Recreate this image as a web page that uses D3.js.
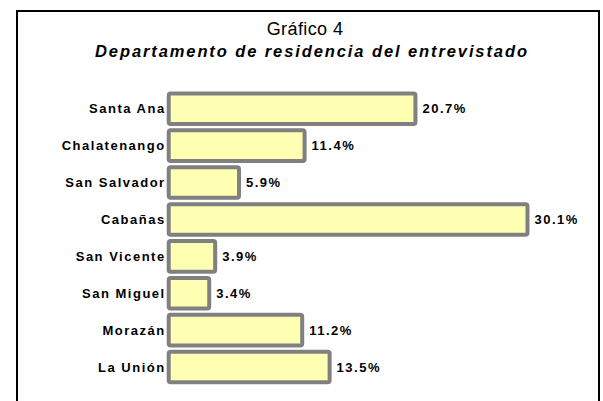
<!DOCTYPE html>
<html lang="es">
<head>
<meta charset="utf-8">
<title>Gráfico 4</title>
<script src="https://cdn.jsdelivr.net/npm/d3@7"></script>
<style>
  body { margin: 0; background: #fff; }
  text { font-family: "Liberation Sans", Arial, sans-serif; fill: #000; }
</style>
</head>
<body>
<svg width="603" height="401"></svg>
<script>
// datos del grafico
var departamentos = ["Santa Ana", "Chalatenango", "San Salvador", "Cabañas", "San Vicente", "San Miguel", "Morazán", "La Unión"];
var porcentajes = [20.7, 11.4, 5.9, 30.1, 3.9, 3.4, 11.2, 13.5];

var data = departamentos.map(function(d, i) { return { dep: d, pct: porcentajes[i] }; });

var svg = d3.select("svg");

// marco
svg.append("rect")
  .attr("x", 17).attr("y", 11)
  .attr("width", 582).attr("height", 420)
  .attr("fill", "none")
  .attr("stroke", "#000")
  .attr("stroke-width", 2);

svg.append("text")
  .attr("x", 305).attr("y", 35)
  .attr("text-anchor", "middle")
  .style("font-size", "18px")
  .style("letter-spacing", "0.4px")
  .text("Gráfico 4");

svg.append("text")
  .attr("x", 311).attr("y", 57)
  .attr("text-anchor", "middle")
  .style("font-size", "16.5px")
  .style("font-weight", "bold")
  .style("font-style", "italic")
  .attr("textLength", 432)
  .attr("lengthAdjust", "spacing")
  .text("Departamento de residencia del entrevistado");

var x = d3.scaleLinear().domain([0, 35]).range([168.7, 585.9]);
var y = d3.scaleBand()
  .domain(departamentos)
  .range([90.3, 385.5])
  .paddingInner(0.17)
  .paddingOuter(0.085);

svg.selectAll(".bar")
  .data(data)
  .enter().append("rect")
  .attr("class", "bar")
  .attr("x", x(0))
  .attr("y", function(d) { return y(d.dep); })
  .attr("width", function(d) { return x(d.pct) - x(0); })
  .attr("height", y.bandwidth())
  .attr("rx", 2)
  .attr("fill", "#ffffb4")
  .attr("stroke", "#808080")
  .attr("stroke-width", 4);

svg.selectAll(".cat")
  .data(data)
  .enter().append("text")
  .attr("class", "cat")
  .attr("x", x(0) - 3)
  .attr("y", function(d) { return y(d.dep) + y.bandwidth() / 2; })
  .attr("dy", "0.36em")
  .attr("text-anchor", "end")
  .style("font-size", "13px")
  .style("font-weight", "bold")
  .style("letter-spacing", "1.5px")
  .text(function(d) { return d.dep; });

svg.selectAll(".val")
  .data(data)
  .enter().append("text")
  .attr("class", "val")
  .attr("x", function(d) { return x(d.pct) + 7; })
  .attr("y", function(d) { return y(d.dep) + y.bandwidth() / 2; })
  .attr("dy", "0.36em")
  .style("font-size", "13px")
  .style("font-weight", "bold")
  .style("letter-spacing", "1.5px")
  .text(function(d) { return d.pct.toFixed(1) + "%"; });
</script>
</body>
</html>
